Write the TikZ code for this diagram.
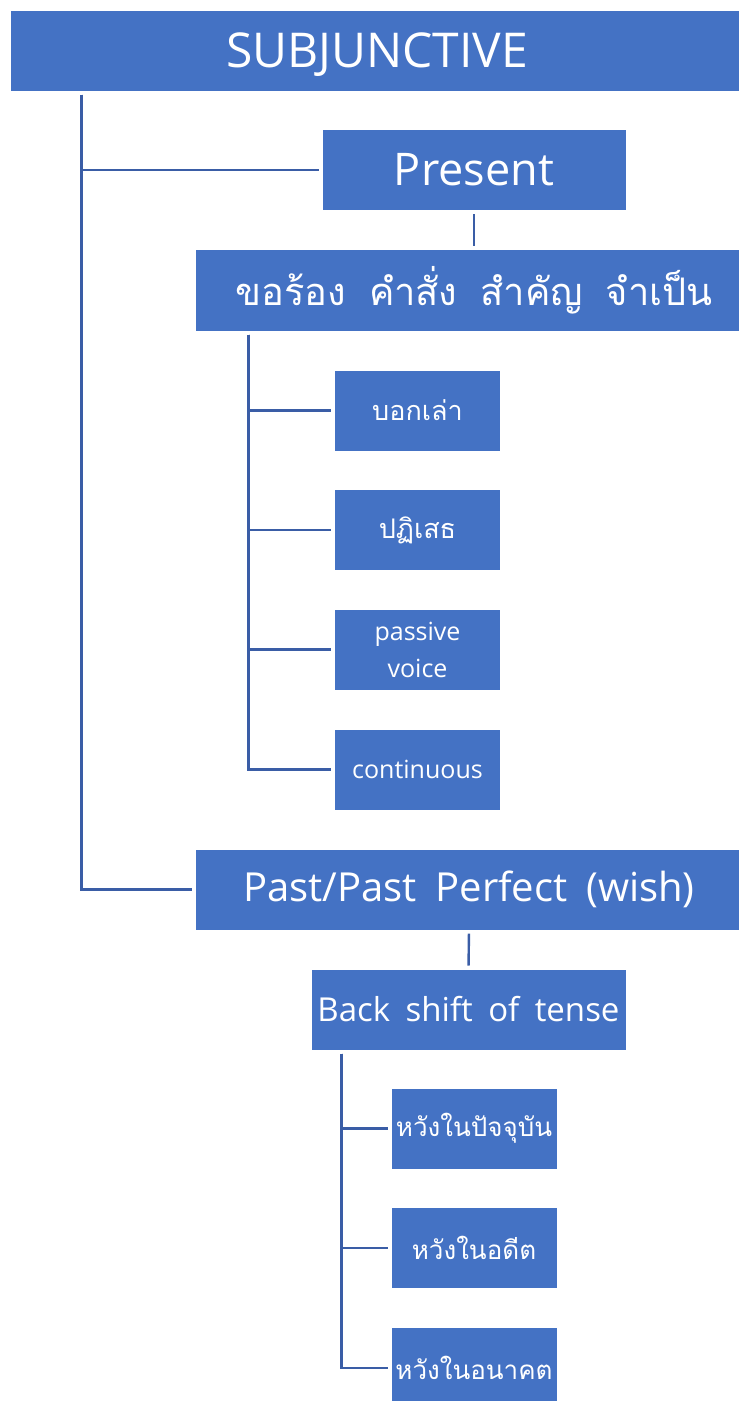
\documentclass[tikz,border=0pt]{standalone}
\usepackage{fontspec}
\setmainfont[WordSpace=1.8]{Open Sans}
\newfontfamily\thaifont[Script=Thai,WordSpace=1.8]{Loma}
\definecolor{boxblue}{HTML}{4472C4}
\definecolor{lineblue}{HTML}{3A5DA6}

\begin{document}
\begin{tikzpicture}[x=1pt,y=-1pt,
	box/.style={fill=boxblue,draw=white,line width=1pt,text=white,inner sep=0pt,align=center,minimum height=81},
	leaf/.style={box,minimum width=166},
	link/.style={draw=lineblue,line width=2.4pt,shorten <=3pt,shorten >=3pt}
]
	\useasboundingbox (0,0) rectangle (739,1401);

	\node[box,minimum width=734,text depth=0pt,font=\fontsize{48}{56}\selectfont] at (377,50.5) (subj) {SUBJUNCTIVE};
	\node[box,minimum width=304,font=\fontsize{45}{54}\selectfont] at (474,170) (pres) {Present};
	\node[box,minimum width=558,minimum height=82,font=\thaifont\fontsize{38}{46}\selectfont] at (474,290) (req) {ขอร้อง คำสั่ง สำคัญ จำเป็น};

	\node[leaf,font=\thaifont\fontsize{27}{34}\selectfont] at (417.5,410.5) (aff) {บอกเล่า};
	\node[leaf,font=\thaifont\fontsize{27}{34}\selectfont] at (417.5,530) (neg) {ปฏิเสธ};
	\node[leaf,font=\fontsize{25}{37}\selectfont] at (417.5,649.5) (pasv) {passive\\voice};
	\node[leaf,font=\fontsize{25}{37}\selectfont] at (417.5,769.5) (cont) {continuous};

	\node[box,minimum width=548,font=\fontsize{40}{48}\selectfont] at (469,889.5) (past) {Past/Past Perfect (wish)};
	\node[box,minimum width=315,font=\fontsize{33}{40}\selectfont] at (468.5,1009.5) (shift) {Back shift of tense};

	\node[leaf,font=\thaifont\fontsize{26}{32}\selectfont] at (474,1128.5) (wnow) {หวังในปัจจุบัน};
	\node[leaf,font=\thaifont\fontsize{26}{32}\selectfont] at (474,1248) (wpast) {หวังในอดีต};
	\node[leaf,font=\thaifont\fontsize{26}{32}\selectfont] at (474,1368) (wfut) {หวังในอนาคต};

	\draw[link] ([xshift=72pt]subj.south west) |- (pres.west);
	\draw[link] ([xshift=72pt]subj.south west) |- (past.west);
	\draw[link] (pres.south) -- (req.north);
	\draw[link] ([xshift=54pt]req.south west) |- (aff.west);
	\draw[link] ([xshift=54pt]req.south west) |- (neg.west);
	\draw[link] ([xshift=54pt]req.south west) |- (pasv.west);
	\draw[link] ([xshift=54pt]req.south west) |- (cont.west);
	\draw[link] (past.south) -- (shift.north);
	\draw[link] ([xshift=31pt]shift.south west) |- (wnow.west);
	\draw[link] ([xshift=31pt]shift.south west) |- (wpast.west);
	\draw[link] ([xshift=31pt]shift.south west) |- (wfut.west);

\end{tikzpicture}
\end{document}
